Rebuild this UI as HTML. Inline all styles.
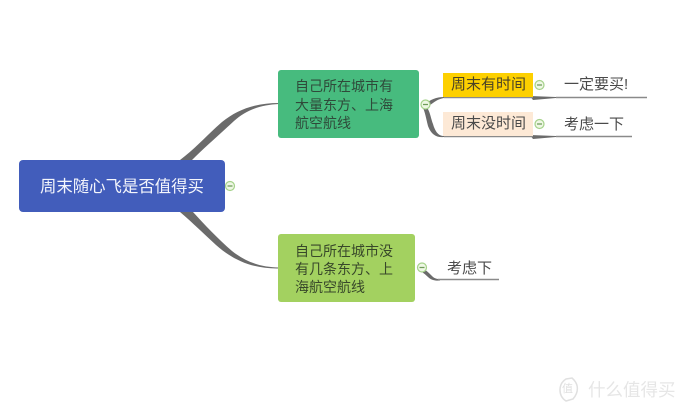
<!DOCTYPE html>
<html><head><meta charset="utf-8">
<style>
html,body{margin:0;padding:0;background:#fff}
#p{position:relative;width:680px;height:407px;overflow:hidden;font-family:"Liberation Sans","Noto Sans CJK SC",sans-serif;background:#fff}
.n{position:absolute;box-sizing:border-box}
.t{position:absolute;white-space:nowrap;color:#3c3c3c}
svg{position:absolute;left:0;top:0}
</style></head><body><div id="p">
<svg width="680" height="407" viewBox="0 0 680 407">
<g fill="#6b6b6b">
<path d="M180 160 C196 148 208 134 222 122 C238 109 256 103 279 103 L279 104 C260 105 246 110 234 121 C220 134 204 148 192 160 Z"/>
<path d="M180 212 C194 224 204 234 216 245 C234 261 254 269 279 268.500 L279 267.500 C260 267 246 262 232 251 C218 239 204 224 193 212 Z"/>
<path d="M425 104 C430 100 436 97 444 97 L444 98 C438 99 434 102 429 106 Z"/>
<path d="M423 104 C430 108 430 116 433 124 C435 131 438 136 444 136 L444 137 C436 138 431 134 428 126 C426 118 425 112 423 108 Z"/>
<path d="M530 96 L556 97 L556 98 L533 100 Z"/>
<path d="M530 135 L556 136 L556 137 L533 139 Z"/>
<path d="M421 267 C426 270 429 273 432 276 C434 278 436 279 440 279 L440 280.5 C435 281 431 280 428 277 C425 274 423 273 421 271 Z"/>
</g>
<g stroke="#8a8a8a" stroke-width="1.5" fill="none">
<path d="M444 97.5 H533"/><path d="M556 97.5 H647"/>
<path d="M444 136.5 H533"/><path d="M556 136.5 H632"/>
<path d="M438 279.5 H499"/>
</g>
</svg>
<div class="n" style="left:19px;top:160px;width:206px;height:52px;background:#425dbb;border-radius:4px"></div>
<div class="t" style="left:40px;top:176px;font-size:16.4px;line-height:22px;color:#f4f6fc">周末随心飞是否值得买</div>
<div class="n" style="left:278px;top:70px;width:141px;height:68px;background:#47bb7e;border-radius:3px"></div>
<div class="t" style="left:295px;top:77px;font-size:14px;line-height:18.5px;color:#2f4a3a">自己所在城市有<br>大量东方、上海<br>航空航线</div>
<div class="n" style="left:278px;top:234px;width:137px;height:68px;background:#a3d160;border-radius:3px"></div>
<div class="t" style="left:295px;top:242px;font-size:14px;color:#38482a;line-height:18px">自己所在城市没<br>有几条东方、上<br>海航空航线</div>
<div class="n" style="left:443px;top:73px;width:90px;height:24px;background:#fdd000"></div>
<div class="t" style="left:451px;top:75px;font-size:15px;line-height:20px;color:#4a4326">周末有时间</div>
<div class="n" style="left:443px;top:112px;width:90px;height:24px;background:#fde9d6"></div>
<div class="t" style="left:451px;top:114px;font-size:15px;line-height:20px;color:#4a4a4a">周末没时间</div>
<div class="t" style="left:564px;top:75px;font-size:15px;line-height:20px;color:#4a4a4a">一定要买!</div>
<div class="t" style="left:564px;top:115px;font-size:15px;line-height:20px;color:#4a4a4a">考虑一下</div>
<div class="t" style="left:447px;top:259px;font-size:15px;line-height:20px;color:#4a4a4a">考虑下</div>
<svg width="680" height="407" viewBox="0 0 680 407">
<g fill="#eef7e4" stroke="#a5d28a" stroke-width="1.2">
<circle cx="230" cy="186" r="4.5"/><circle cx="425.500" cy="104.500" r="4.5"/><circle cx="539.500" cy="85" r="4.5"/><circle cx="539.500" cy="124" r="4.5"/><circle cx="422" cy="267.500" r="4.5"/>
</g>
<g stroke="#6f9a5a" stroke-width="1.2">
<path d="M227.500 186H232.500M423 104.500H428M537 85H542M537 124H542M419.500 267.500H424.500"/>
</g>
<g fill="none" stroke="#e0e0e0" stroke-width="1.5"><path d="M566 379 C558 384 558 396 566 401 L573 399 C579 392 579 384 572 378 Z"/></g>
</svg>
<div class="t" style="left:562px;top:382px;font-size:11px;line-height:14px;color:#e0e0e0">值</div>
<div class="t" style="left:588px;top:380px;font-size:17.500px;line-height:20px;color:#e6e6e6">什么值得买</div>
</div></body></html>
